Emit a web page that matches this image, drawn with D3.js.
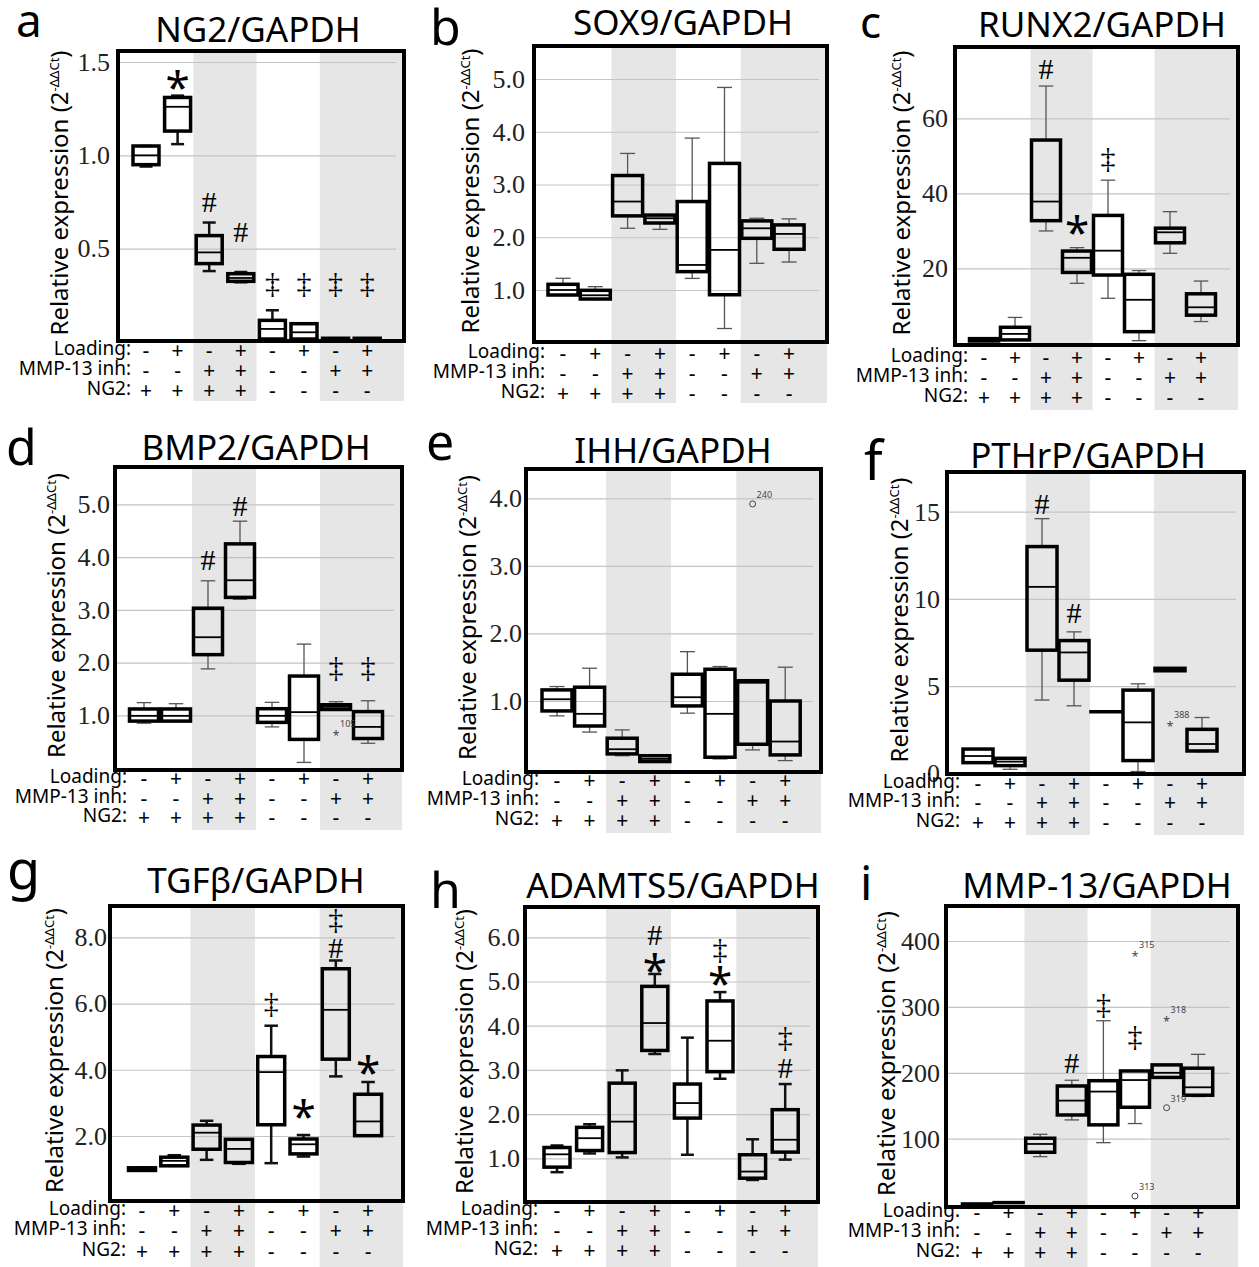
<!DOCTYPE html>
<html>
<head>
<meta charset="utf-8">
<script src="https://cdnjs.cloudflare.com/ajax/libs/d3/7.8.5/d3.min.js"></script>
<style>
body { margin: 0; background: #fff; }
</style>
</head>
<body>
<div id="fig"></div>
<script>
// x categories and the three factor rows under every panel
var groups = ["1", "2", "3", "4", "5", "6", "7", "8"];
var rowNames = ["Loading:", "MMP-13 inh:", "NG2:"];
var loadingSigns = ["-", "+", "-", "+", "-", "+", "-", "+"];
var mmpSigns = ["-", "-", "+", "+", "-", "-", "+", "+"];
var ng2Signs = ["+", "+", "+", "+", "-", "-", "-", "-"];

// box stats per group: [lower whisker, q1, median, q3, upper whisker]
var ng2Box = [
    [0.94, 0.95, 1.0, 1.05, 1.05],
    [1.06, 1.13, 1.26, 1.31, 1.32],
    [0.38, 0.42, 0.48, 0.57, 0.64],
    [0.32, 0.325, 0.343, 0.366, 0.375],
    [0.01, 0.016, 0.07, 0.116, 0.17],
    [0.01, 0.016, 0.052, 0.098, 0.098],
    [0.02, 0.02, 0.02, 0.02, 0.02],
    [0.02, 0.02, 0.02, 0.02, 0.02]
];
var sox9Box = [
    [0.9, 0.905, 1.0, 1.108, 1.222],
    [0.82, 0.829, 0.9, 0.994, 1.063],
    [2.171, 2.405, 2.677, 3.17, 3.589],
    [2.15, 2.27, 2.36, 2.42, 2.43],
    [1.22, 1.348, 1.475, 2.677, 3.88],
    [0.27, 0.91, 1.76, 3.40, 4.84],
    [1.506, 1.98, 2.17, 2.31, 2.36],
    [1.53, 1.772, 2.063, 2.234, 2.348]
];
var runx2Box = [
    [0.6, 0.62, 0.9, 1.24, 1.24],
    [0.9, 0.9, 2.5, 4.27, 6.9],
    [29.96, 32.7, 37.8, 54.2, 68.6],
    [16, 18.9, 22.8, 24.6, 25.5],
    [12, 18.2, 24.7, 34.1, 43.5],
    [0.7, 3.1, 11.6, 18.4, 19.4],
    [24, 26.8, 29.6, 30.7, 35.1],
    [5.8, 7.5, 9.6, 13.2, 16.6]
];
var bmp2Box = [
    [0.85, 0.89, 0.99, 1.12, 1.24],
    [0.89, 0.89, 0.99, 1.12, 1.22],
    [1.88, 2.15, 2.48, 3.03, 3.55],
    [3.2, 3.235, 3.56, 4.25, 4.68],
    [0.78, 0.866, 0.99, 1.125, 1.245],
    [0.107, 0.543, 1.06, 1.744, 2.35],
    [1.11, 1.11, 1.16, 1.2, 1.257],
    [0.47, 0.56, 0.78, 1.07, 1.276]
];
var ihhBox = [
    [0.78, 0.853, 1.026, 1.164, 1.214],
    [0.54, 0.63, 0.81, 1.204, 1.485],
    [0.19, 0.217, 0.286, 0.449, 0.572],
    [0.1, 0.104, 0.143, 0.19, 0.19],
    [0.82, 0.927, 1.056, 1.396, 1.73],
    [0.143, 0.168, 0.81, 1.47, 1.51],
    [0.276, 0.36, 1.27, 1.30, 1.30],
    [0.118, 0.202, 0.40, 1.0, 1.5]
];
var pthrpBox = [
    [0.61, 0.61, 0.99, 1.39, 1.39],
    [0.23, 0.44, 0.67, 0.86, 0.86],
    [4.2, 7.06, 10.69, 13.0, 14.6],
    [3.87, 5.34, 6.93, 7.61, 8.11],
    [3.53, 3.53, 3.53, 3.53, 3.53],
    [0.1, 0.73, 2.92, 4.77, 5.13],
    [5.88, 5.88, 5.95, 6.02, 6.02],
    [1.24, 1.28, 1.68, 2.52, 3.2]
];
var tgfbBox = [
    [0.96, 0.96, 1.0, 1.04, 1.04],
    [1.1, 1.1, 1.25, 1.36, 1.42],
    [1.28, 1.6, 2.1, 2.33, 2.46],
    [1.16, 1.2, 1.61, 1.9, 1.9],
    [1.18, 2.34, 3.93, 4.4, 5.33],
    [1.38, 1.46, 1.75, 1.91, 2.03],
    [3.8, 4.32, 5.81, 7.05, 7.3],
    [2.01, 2.01, 2.44, 3.26, 3.63]
];
var adamts5Box = [
    [0.686, 0.8, 1.09, 1.244, 1.29],
    [1.11, 1.176, 1.455, 1.70, 1.77],
    [1.02, 1.13, 1.83, 2.7, 2.99],
    [3.36, 3.44, 4.06, 4.89, 5.17],
    [1.08, 1.91, 2.25, 2.68, 3.73],
    [2.8, 2.96, 3.66, 4.56, 4.76],
    [0.51, 0.55, 0.7, 1.08, 1.43],
    [0.97, 1.14, 1.42, 2.1, 2.68]
];
var mmp13Box = [
    [1, 1, 1, 1, 1],
    [3, 3, 3, 3, 3],
    [72.8, 79.4, 92, 100.7, 106.7],
    [128.5, 136, 157.8, 180, 188.7],
    [94, 121, 171.5, 188, 279],
    [123, 147.7, 189, 202.8, 203],
    [193, 193, 200, 212, 212],
    [164, 166, 178, 207, 228]
];

// significance marks: [group, symbol, value]
var ng2Marks = [[2, "*", 1.41], [3, "#", 0.75], [4, "#", 0.59], [5, "‡", 0.31], [6, "‡", 0.31], [7, "‡", 0.31], [8, "‡", 0.31]];
var runx2Marks = [[3, "#", 73.3], [4, "*", 31.8], [5, "‡", 49.2]];
var bmp2Marks = [[3, "#", 3.94], [4, "#", 4.97], [7, "‡", 1.89], [8, "‡", 1.89]];
var pthrpMarks = [[3, "#", 15.46], [4, "#", 9.2]];
var tgfbMarks = [[5, "‡", 5.99], [6, "*", 2.84], [7, "#", 7.69], [7, "‡", 8.53], [8, "*", 4.18]];
var adamts5Marks = [[4, "*", 5.45], [4, "#", 6.06], [6, "*", 5.15], [6, "‡", 5.72], [8, "#", 3.04], [8, "‡", 3.72]];
var mmp13Marks = [[4, "#", 214.5], [5, "‡", 303], [6, "‡", 255]];

// outliers: [group, marker, value, case label]
var bmp2Outliers = [[7, "*", 0.657, "105"]];
var ihhOutliers = [[7, "o", 3.917, "240"]];
var pthrpOutliers = [[7, "*", 2.82, "388"]];
var mmp13Outliers = [[6, "*", 381, "315"], [6, "o", 13, "313"], [7, "*", 282, "318"], [7, "o", 147, "319"]];

// y tick values
var ng2Ticks = [0.5, 1.0, 1.5];
var sox9Ticks = [1, 2, 3, 4, 5];
var runx2Ticks = [20, 40, 60];
var bmp2Ticks = [1, 2, 3, 4, 5];
var ihhTicks = [1, 2, 3, 4];
var pthrpTicks = [0, 5, 10, 15];
var tgfbTicks = [2, 4, 6, 8];
var adamts5Ticks = [1, 2, 3, 4, 5, 6];
var mmp13Ticks = [100, 200, 300, 400];

var panels = [
    { letter: "a", title: "NG2/GAPDH", box: ng2Box, ticks: ng2Ticks, fmt: ".1f", marks: ng2Marks, outliers: [],
      frame: [118, 51, 404, 341], yv: [0, 1.5], yp: [342, 62], c0: 146, step: 31.6, bw: 26,
      tickX: 110, labX: 68, labRight: 131, rows: [355, 375, 395], bandBottom: 401,
      titleX: 258, titleY: 42, letterX: 16, letterY: 37, letterSize: 46, bold: true },
    { letter: "b", title: "SOX9/GAPDH", box: sox9Box, ticks: sox9Ticks, fmt: ".1f", marks: [], outliers: [],
      frame: [534, 46, 827, 342], yv: [1, 5], yp: [290, 79], c0: 563, step: 32.3, bw: 30,
      tickX: 525, labX: 479, labRight: 545, rows: [358, 378, 398], bandBottom: 403,
      titleX: 683, titleY: 35, letterX: 430, letterY: 45, letterSize: 50, bold: false },
    { letter: "c", title: "RUNX2/GAPDH", box: runx2Box, ticks: runx2Ticks, fmt: "d", marks: runx2Marks, outliers: [],
      frame: [955, 47, 1238, 345], yv: [0, 60], yp: [343.3, 118.3], c0: 984, step: 31, bw: 29,
      tickX: 948, labX: 910, labRight: 968, rows: [362, 382, 402], bandBottom: 410,
      titleX: 1102, titleY: 37, letterX: 860, letterY: 38, letterSize: 44, bold: false },
    { letter: "d", title: "BMP2/GAPDH", box: bmp2Box, ticks: bmp2Ticks, fmt: ".1f", marks: bmp2Marks, outliers: bmp2Outliers,
      frame: [115, 467, 402, 770], yv: [1, 5], yp: [715.3, 504.3], c0: 144, step: 32, bw: 29,
      tickX: 110, labX: 65, labRight: 127, rows: [783, 803, 822], bandBottom: 830,
      titleX: 256, titleY: 460, letterX: 6, letterY: 465, letterSize: 50, bold: false },
    { letter: "e", title: "IHH/GAPDH", box: ihhBox, ticks: ihhTicks, fmt: ".1f", marks: [], outliers: ihhOutliers,
      frame: [526, 469, 821, 772], yv: [1, 4], yp: [701, 498.3], c0: 557, step: 32.6, bw: 30,
      tickX: 522, labX: 476, labRight: 539, rows: [785, 805, 825], bandBottom: 833,
      titleX: 673, titleY: 463, letterX: 426, letterY: 460, letterSize: 50, bold: false },
    { letter: "f", title: "PTHrP/GAPDH", box: pthrpBox, ticks: pthrpTicks, fmt: "d", marks: pthrpMarks, outliers: pthrpOutliers,
      frame: [947, 472, 1244, 774], yv: [0, 15], yp: [773.3, 511.7], c0: 978, step: 32, bw: 30,
      tickX: 940, labX: 908, labRight: 960, rows: [788, 807, 827], bandBottom: 835,
      titleX: 1088, titleY: 468, letterX: 864, letterY: 480, letterSize: 54, bold: false },
    { letter: "g", title: "TGFβ/GAPDH", box: tgfbBox, ticks: tgfbTicks, fmt: ".1f", marks: tgfbMarks, outliers: [],
      frame: [110, 906, 403, 1201], yv: [2, 8], yp: [1136, 937.3], c0: 142, step: 32.3, bw: 27,
      tickX: 107, labX: 63, labRight: 126, rows: [1215, 1235, 1256], bandBottom: 1267,
      titleX: 256, titleY: 893, letterX: 7, letterY: 889, letterSize: 54, bold: true },
    { letter: "h", title: "ADAMTS5/GAPDH", box: adamts5Box, ticks: adamts5Ticks, fmt: ".1f", marks: adamts5Marks, outliers: [],
      frame: [525, 907, 818, 1202], yv: [1, 6], yp: [1158.3, 937.3], c0: 557, step: 32.6, bw: 26,
      tickX: 520, labX: 473, labRight: 538, rows: [1215, 1235, 1255], bandBottom: 1267,
      titleX: 673, titleY: 898, letterX: 430, letterY: 908, letterSize: 50, bold: true },
    { letter: "i", title: "MMP-13/GAPDH", box: mmp13Box, ticks: mmp13Ticks, fmt: "d", marks: mmp13Marks, outliers: mmp13Outliers,
      frame: [946, 906, 1238, 1207], yv: [100, 400], yp: [1138.7, 941], c0: 977, step: 31.6, bw: 29,
      tickX: 940, labX: 895, labRight: 960, rows: [1217, 1237, 1257], bandBottom: 1267,
      titleX: 1097, titleY: 898, letterX: 860, letterY: 900, letterSize: 48, bold: false }
];

var SANS = "Noto Sans, Open Sans, sans-serif";
var SERIF = "Liberation Serif, DejaVu Serif, serif";
// symbol font, size and baseline shift (in em) so the glyph centre sits on the value
var symStyle = {
    "*": { font: SANS, size: 44, dy: 0.55 },
    "#": { font: SERIF, size: 30, dy: 0.34 },
    "‡": { font: SERIF, size: 30, dy: 0.3 }
};

var figure = {
    svg: 0,

    initialize: function() {
        var self = this;
        self.svg = d3.select("#fig").append("svg")
            .attr("width", 1259)
            .attr("height", 1267);
        self.svg.append("rect").attr("width", 1259).attr("height", 1267).attr("fill", "#fff");
        panels.forEach(function(p) {
            self.draw_panel(p);
        });
    },

    draw_panel: function(p) {
        var self = this;
        var g = self.svg.append("g");
        var f = p.frame;

        var x = d3.scaleBand().domain(groups)
            .range([p.c0 - p.step / 2, p.c0 + 7.5 * p.step]);
        var y = d3.scaleLinear().domain(p.yv).range(p.yp);
        var cx = function(i) { return x(groups[i]) + x.bandwidth() / 2; };

        // grey bands for the MMP-13 inhibitor groups
        g.append("rect")
            .attr("x", x(groups[2])).attr("y", f[1])
            .attr("width", x(groups[3]) + x.bandwidth() - x(groups[2]))
            .attr("height", p.bandBottom - f[1])
            .attr("fill", "#e6e6e6");
        g.append("rect")
            .attr("x", x(groups[6])).attr("y", f[1])
            .attr("width", f[2] - x(groups[6]))
            .attr("height", p.bandBottom - f[1])
            .attr("fill", "#e6e6e6");

        // gridlines
        var grid = g.append("g")
            .attr("transform", "translate(" + (f[0] + 2) + ",0)")
            .call(d3.axisLeft(y)
                .tickValues(p.ticks.filter(function(t) { return t > 0; }))
                .tickSize(-(f[2] - f[0] - 10))
                .tickFormat(""));
        grid.select(".domain").remove();
        grid.selectAll("line").attr("stroke", "#c4c4c4").attr("stroke-width", 1.2);

        // whiskers, boxes, medians
        var wColor = p.bold ? "#111" : "#555";
        var wWidth = p.bold ? 2.5 : 1.3;
        var cap = p.bw * 0.5;
        var boxes = g.append("g");
        p.box.forEach(function(d, i) {
            var c = cx(i);
            boxes.append("line")
                .attr("x1", c).attr("x2", c)
                .attr("y1", y(d[4])).attr("y2", y(d[3]))
                .attr("stroke", wColor).attr("stroke-width", wWidth);
            boxes.append("line")
                .attr("x1", c).attr("x2", c)
                .attr("y1", y(d[1])).attr("y2", y(d[0]))
                .attr("stroke", wColor).attr("stroke-width", wWidth);
            boxes.append("line")
                .attr("x1", c - cap / 2).attr("x2", c + cap / 2)
                .attr("y1", y(d[4])).attr("y2", y(d[4]))
                .attr("stroke", wColor).attr("stroke-width", wWidth);
            boxes.append("line")
                .attr("x1", c - cap / 2).attr("x2", c + cap / 2)
                .attr("y1", y(d[0])).attr("y2", y(d[0]))
                .attr("stroke", wColor).attr("stroke-width", wWidth);
            boxes.append("rect")
                .attr("x", c - p.bw / 2)
                .attr("y", y(d[3]))
                .attr("width", p.bw)
                .attr("height", Math.max(0.01, y(d[1]) - y(d[3])))
                .attr("fill", "none")
                .attr("stroke", "#000")
                .attr("stroke-width", 3.5);
            boxes.append("line")
                .attr("x1", c - p.bw / 2).attr("x2", c + p.bw / 2)
                .attr("y1", y(d[2])).attr("y2", y(d[2]))
                .attr("stroke", "#000").attr("stroke-width", 1.8);
        });

        // outliers with their case numbers
        p.outliers.forEach(function(o) {
            var c = cx(o[0] - 1), yy = y(o[2]);
            if (o[1] === "o") {
                g.append("circle").attr("cx", c).attr("cy", yy).attr("r", 3)
                    .attr("fill", "none").attr("stroke", "#444").attr("stroke-width", 1);
            } else {
                g.append("text").attr("x", c).attr("y", yy + 7)
                    .attr("text-anchor", "middle").attr("font-family", SANS)
                    .attr("font-size", 12).attr("fill", "#444").text("*");
            }
            g.append("text").attr("x", c + 4).attr("y", yy - 6)
                .attr("font-family", SANS).attr("font-size", 9).attr("fill", "#444")
                .text(o[3]);
        });

        // significance marks
        p.marks.forEach(function(m) {
            var s = symStyle[m[1]];
            g.append("text")
                .attr("x", cx(m[0] - 1))
                .attr("y", y(m[2]) + s.size * s.dy)
                .attr("text-anchor", "middle")
                .attr("font-family", s.font)
                .attr("font-size", s.size)
                .text(m[1]);
        });

        // frame
        g.append("rect")
            .attr("x", f[0]).attr("y", f[1])
            .attr("width", f[2] - f[0]).attr("height", f[3] - f[1])
            .attr("fill", "none").attr("stroke", "#000").attr("stroke-width", 4);

        // y axis tick labels
        var ax = g.append("g")
            .attr("transform", "translate(" + p.tickX + ",0)")
            .call(d3.axisLeft(y).tickValues(p.ticks).tickSize(0).tickPadding(0)
                .tickFormat(d3.format(p.fmt)));
        ax.select(".domain").remove();
        ax.selectAll("text")
            .attr("font-family", SERIF)
            .attr("font-size", 26)
            .attr("fill", "#222");

        // y axis title
        var lab = g.append("text")
            .attr("transform", "translate(" + p.labX + "," + ((f[1] + f[3]) / 2 - 3) + ") rotate(-90)")
            .attr("text-anchor", "middle")
            .attr("font-family", SANS)
            .attr("font-size", 24);
        lab.append("tspan").text("Relative expression (2");
        lab.append("tspan").attr("font-size", 13).attr("dy", -9).text("-ΔΔCt");
        lab.append("tspan").attr("dy", 9).text(")");

        // factor rows
        var signRows = [loadingSigns, mmpSigns, ng2Signs];
        rowNames.forEach(function(name, r) {
            g.append("text")
                .attr("x", p.labRight).attr("y", p.rows[r])
                .attr("text-anchor", "end")
                .attr("font-family", SANS).attr("font-size", 19)
                .text(name);
            g.selectAll(null)
                .data(signRows[r])
                .enter().append("text")
                .attr("x", function(d, i) { return cx(i); })
                .attr("y", p.rows[r] + 3)
                .attr("text-anchor", "middle")
                .attr("font-family", SANS).attr("font-size", 21)
                .text(function(d) { return d; });
        });

        // title and panel letter
        g.append("text")
            .attr("x", p.titleX).attr("y", p.titleY)
            .attr("text-anchor", "middle")
            .attr("font-family", SANS).attr("font-size", 35)
            .text(p.title);
        g.append("text")
            .attr("x", p.letterX).attr("y", p.letterY)
            .attr("font-family", SANS).attr("font-size", p.letterSize)
            .text(p.letter);
    }
};

figure.initialize();
</script>
</body>
</html>
